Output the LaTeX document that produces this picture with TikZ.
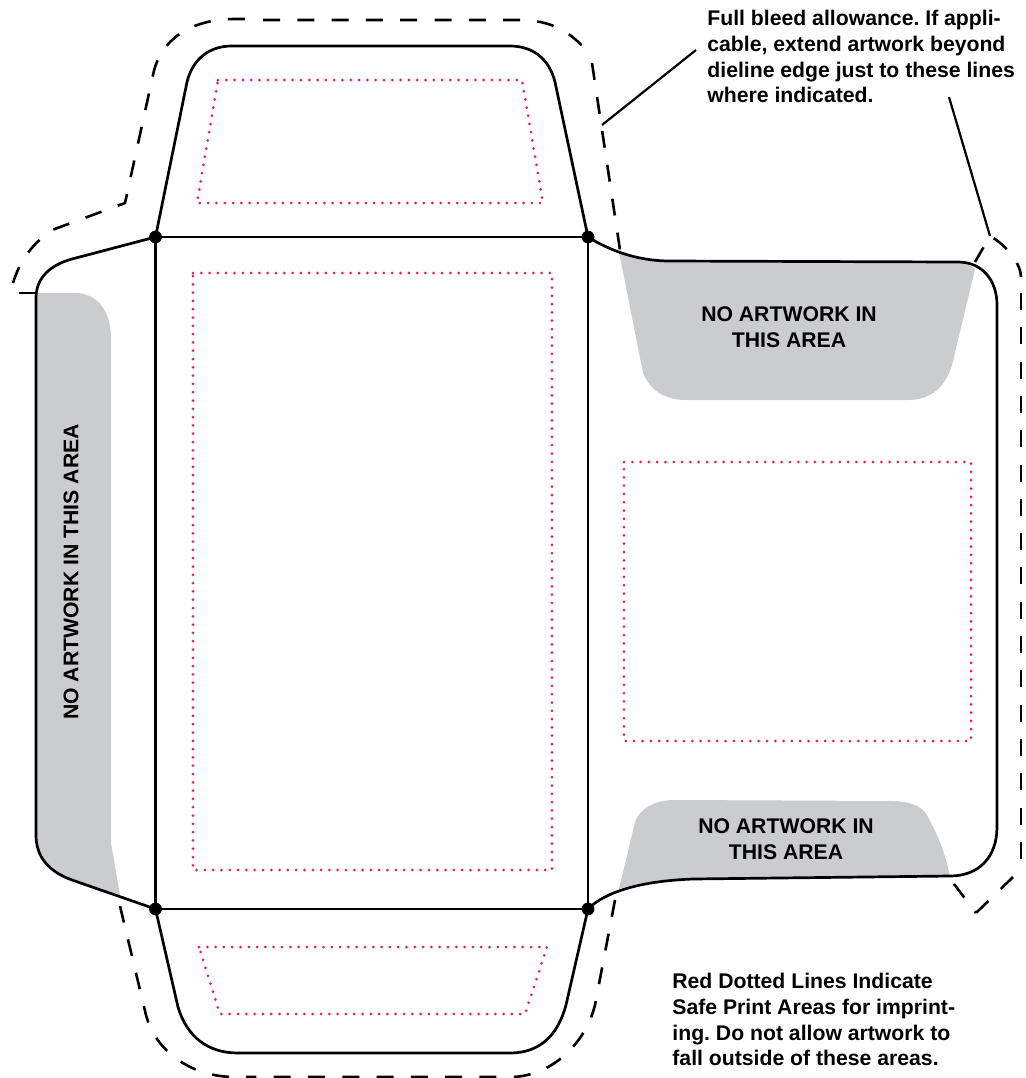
\documentclass[tikz,border=0pt]{standalone}
\usepackage{fontspec}
\setmainfont{Liberation Sans}

\definecolor{noartgray}{HTML}{CBCCCE}
\definecolor{saferead}{HTML}{ED1C4A}
\tikzset{
    dieline/.style={line width=1.35pt,line join=round},
    bleedline/.style={line width=1.3pt,dash pattern=on 8.5pt off 8.65pt},
    safeline/.style={saferead,line width=1.5pt,line cap=round,dash pattern=on 0pt off 4.15pt},
    leaderline/.style={line width=1.1pt},
    noart/.style={fill=noartgray,draw=none},
    foldpoint/.style={circle,fill=black,inner sep=0pt,minimum size=6.4pt},
    notetext/.style={font=\bfseries\fontsize{10.6}{12.85}\selectfont,align=left,inner sep=0pt},
    areatext/.style={font=\bfseries\fontsize{10.6}{13}\selectfont,align=center,inner sep=0pt}
}

\begin{document}
\frenchspacing
\begin{tikzpicture}[x=0.5pt,y=-0.5pt]
    \useasboundingbox (0,0) rectangle (1026,1078);
    %no artwork areas
    \fill[noart] (36,293) -- (75,293) .. controls (98,293) and (111,312) .. (111,338)
        -- (111,843) -- (120,895) -- (72,880) .. controls (50,872) and (36,858) .. (36,835) -- cycle;
    \fill[noart] (619,252) .. controls (635,258) and (650,261) .. (670,261) -- (958,262)
        .. controls (965,262) and (970,265) .. (975,269) -- (952,365)
        .. controls (945,388) and (930,400) .. (908,400) -- (685,400)
        .. controls (665,400) and (650,390) .. (643,373) -- cycle;
    \fill[noart] (619,889) -- (635,822) .. controls (640,808) and (655,800) .. (675,800) -- (895,801)
        .. controls (910,802) and (922,806) .. (927,815) .. controls (938,835) and (946,855) .. (950,877)
        -- (693,879) .. controls (665,880) and (640,882) .. (619,889) -- cycle;
    %fold points
    \node[foldpoint] (foldtl) at (155.5,237) {};
    \node[foldpoint] (foldtr) at (588,237) {};
    \node[foldpoint] (foldbl) at (155.5,909) {};
    \node[foldpoint] (foldbr) at (588,909) {};
    %center panel
    \draw[dieline] (foldtl.center) -- (foldtr.center) -- (foldbr.center) -- (foldbl.center) -- cycle;
    %top flap
    \draw[dieline] (foldtl.center) -- (187,82) .. controls (193,58) and (210,46) .. (232,46)
        -- (510,46) .. controls (532,46) and (549,58) .. (555,82) -- (foldtr.center);
    %bottom flap
    \draw[dieline] (foldbl.center) -- (178,1007) .. controls (187,1037) and (208,1053) .. (238,1053)
        -- (510,1053) .. controls (540,1053) and (558,1035) .. (566,1005) -- (foldbr.center);
    %left flap
    \draw[dieline] (foldtl.center) -- (72,259) .. controls (50,265) and (36,278) .. (36,298)
        -- (36,835) .. controls (36,858) and (50,872) .. (72,880) -- (foldbl.center);
    \draw[dieline] (19,293) -- (36,293);
    %right flap
    \draw[dieline] (foldtr.center) .. controls (612,252) and (640,261) .. (670,261) -- (958,262)
        .. controls (982,262) and (997,280) .. (997,305) -- (997,827)
        .. controls (997,858) and (978,876) .. (950,876) -- (693,879)
        .. controls (640,881) and (605,892) .. (foldbr.center);
    %bleed line
    \draw[bleedline] (13,283) .. controls (20,260) and (33,243) .. (52,230) -- (125,203) -- (153,75)
        .. controls (160,40) and (190,19) .. (235,19) -- (246,19);
    \draw[bleedline] (263,20) -- (520,20) .. controls (548,20) and (568,30) .. (583,47);
    \draw[bleedline] (592,63) -- (620,250);
    \draw[bleedline] (975,262) -- (990,236) .. controls (1008,246) and (1021,265) .. (1021,277);
    \draw[bleedline] (1021,293) -- (1021,863);
    \draw[bleedline] (1013,877) -- (976,913);
    \draw[bleedline] (954,884) -- (976,913);
    \draw[bleedline] (615,900) -- (595,1005) .. controls (585,1045) and (550,1077) .. (510,1077) -- (246,1077);
    \draw[bleedline] (120,906) -- (146,1015) .. controls (155,1050) and (190,1077) .. (235,1077);
    %safe print areas
    \draw[safeline] (218,80) -- (522,80) -- (543,203) -- (197,203) -- cycle;
    \draw[safeline] (193,273) -- (552,273) -- (552,870) -- (193,870) -- cycle;
    \draw[safeline] (624,462) -- (971,462) -- (971,741) -- (624,741) -- cycle;
    \draw[safeline] (199,947) -- (547,947) -- (525,1014) -- (220,1014) -- cycle;
    %labels
    \node[areatext] (noarttop) at (789,327) {NO ARTWORK IN\\THIS AREA};
    \node[areatext] (noartbottom) at (786,839) {NO ARTWORK IN\\THIS AREA};
    \node[areatext,rotate=90] (noartleft) at (71,572) {NO ARTWORK IN THIS AREA};
    \node[notetext,anchor=north west] (bleednote) at (707,10)
        {Full bleed allowance. If appli-\\cable, extend artwork beyond\\dieline edge just to these lines\\where indicated.};
    \node[notetext,anchor=north west] (safenote) at (672,973)
        {Red Dotted Lines Indicate\\Safe Print Areas for imprint-\\ing. Do not allow artwork to\\fall outside of these areas.};
    %leaders
    \coordinate (bleedleftstart) at (696,50);
    \coordinate (bleedleftend) at (602,125);
    \coordinate (bleedrightstart) at (949,97);
    \coordinate (bleedrightend) at (990,236);
    \draw[leaderline] (bleedleftstart) -- (bleedleftend);
    \draw[leaderline] (bleedrightstart) -- (bleedrightend);
\end{tikzpicture}
\end{document}
